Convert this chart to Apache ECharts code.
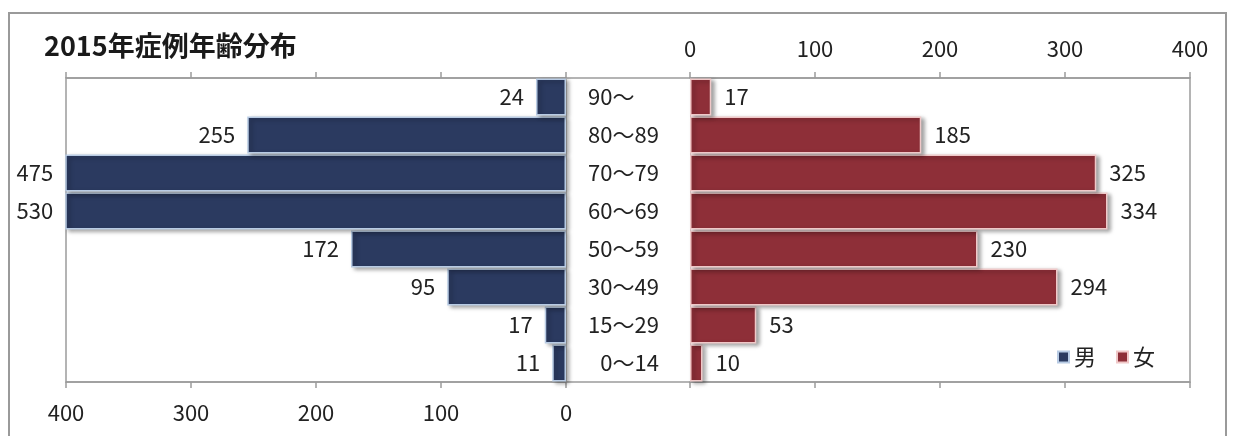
<!DOCTYPE html>
<html>
<head>
<meta charset="utf-8">
<script src="https://cdn.jsdelivr.net/npm/echarts@6/dist/echarts.min.js"></script>
<style>
  html, body { margin: 0; padding: 0; background: #fff; }
  .frame {
    position: absolute; left: 8px; top: 12px; width: 1219px; height: 440px;
    border: 2px solid #9a9a9a; box-sizing: border-box;
  }
  #chart { position: absolute; left: 0; top: 0; width: 1237px; height: 436px; }
</style>
</head>
<body>
<div class="frame"></div>
<div id="chart"></div>
<script>
  // bottom to top
  const categories = ['\u20070～14', '15～29', '30～49', '50～59', '60～69', '70～79', '80～89', '90～'];
  const maleValues = [11, 17, 95, 172, 530, 475, 255, 24];
  const femaleValues = [10, 53, 294, 230, 334, 325, 185, 17];
  const axisTicks = [0, 100, 200, 300, 400];

  const font = '"Noto Sans CJK JP", "Noto Sans", sans-serif';
  const lineGray = '#9c9c9c';
  const maleColor = '#2b3a60';
  const femaleColor = '#8e2f38';
  const textSize = 22;

  const chart = echarts.init(document.getElementById('chart'));

  const valueAxis = (gridIndex, position, inverse, showLabel) => ({
    type: 'value',
    gridIndex,
    position,
    inverse,
    min: axisTicks[0],
    max: axisTicks[axisTicks.length - 1],
    interval: 100,
    splitLine: { show: false },
    axisLine: { show: true, lineStyle: { color: lineGray, width: 1.5 } },
    axisTick: { show: true, length: 6, lineStyle: { color: lineGray, width: 1.5 } },
    axisLabel: {
      show: showLabel,
      fontSize: textSize,
      color: '#222',
      fontFamily: font,
      margin: position === 'top' ? 18 : 20,
    },
  });

  const option = {
    animation: false,
    textStyle: { fontFamily: font },
    title: {
      text: '2015年症例年齢分布',
      left: 39,
      top: 27,
      textStyle: { fontSize: 27, fontWeight: 'bold', color: '#1a1a1a', fontFamily: font },
    },
    legend: {
      data: ['男', '女'],
      left: 1052,
      top: 341,
      icon: 'rect',
      itemWidth: 11,
      itemHeight: 11,
      itemGap: 20,
      textStyle: { fontSize: textSize, color: '#222', fontFamily: font },
    },
    grid: [
      { left: 66, right: 671, top: 78, bottom: 54 },
      { left: 690, right: 47, top: 78, bottom: 54 },
      { left: 66, right: 47, top: 78, bottom: 54, show: true, borderColor: lineGray, borderWidth: 1.5, backgroundColor: 'transparent' },
    ],
    xAxis: [
      valueAxis(0, 'bottom', true, true),
      valueAxis(0, 'top', true, false),
      valueAxis(1, 'top', false, true),
      valueAxis(1, 'bottom', false, false),
      { type: 'value', gridIndex: 2, show: false },
    ],
    yAxis: [
      {
        type: 'category',
        gridIndex: 0,
        position: 'right',
        data: categories,
        axisLine: { show: true, lineStyle: { color: '#c8c8c8' } },
        axisTick: { show: false },
        axisLabel: { show: false },
      },
      {
        type: 'category',
        gridIndex: 1,
        position: 'left',
        data: categories,
        axisLine: { show: true, lineStyle: { color: '#c8c8c8' } },
        axisTick: { show: false },
        axisLabel: {
          align: 'left',
          margin: 102,
          fontSize: textSize,
          color: '#222',
          fontFamily: font,
        },
      },
      { type: 'category', gridIndex: 2, show: false },
    ],
    series: [
      {
        name: '男',
        type: 'bar',
        xAxisIndex: 0,
        yAxisIndex: 0,
        data: maleValues,
        barCategoryGap: '3%',
        itemStyle: {
          color: maleColor,
          borderColor: '#b8cbe4',
          borderWidth: 1.5,
          shadowColor: 'rgba(0,0,0,0.35)',
          shadowBlur: 4,
          shadowOffsetX: 3,
          shadowOffsetY: 2,
        },
        label: {
          show: true,
          position: 'left',
          distance: 12,
          fontSize: textSize,
          color: '#222',
          fontFamily: font,
        },
      },
      {
        name: '女',
        type: 'bar',
        xAxisIndex: 2,
        yAxisIndex: 1,
        data: femaleValues,
        barCategoryGap: '3%',
        itemStyle: {
          color: femaleColor,
          borderColor: '#f0c8c8',
          borderWidth: 1.5,
          shadowColor: 'rgba(0,0,0,0.35)',
          shadowBlur: 4,
          shadowOffsetX: 3,
          shadowOffsetY: 2,
        },
        label: {
          show: true,
          position: 'right',
          distance: 13,
          fontSize: textSize,
          color: '#222',
          fontFamily: font,
        },
      },
    ],
  };

  chart.setOption(option);
  window.addEventListener('resize', () => chart.resize());
</script>
</body>
</html>
